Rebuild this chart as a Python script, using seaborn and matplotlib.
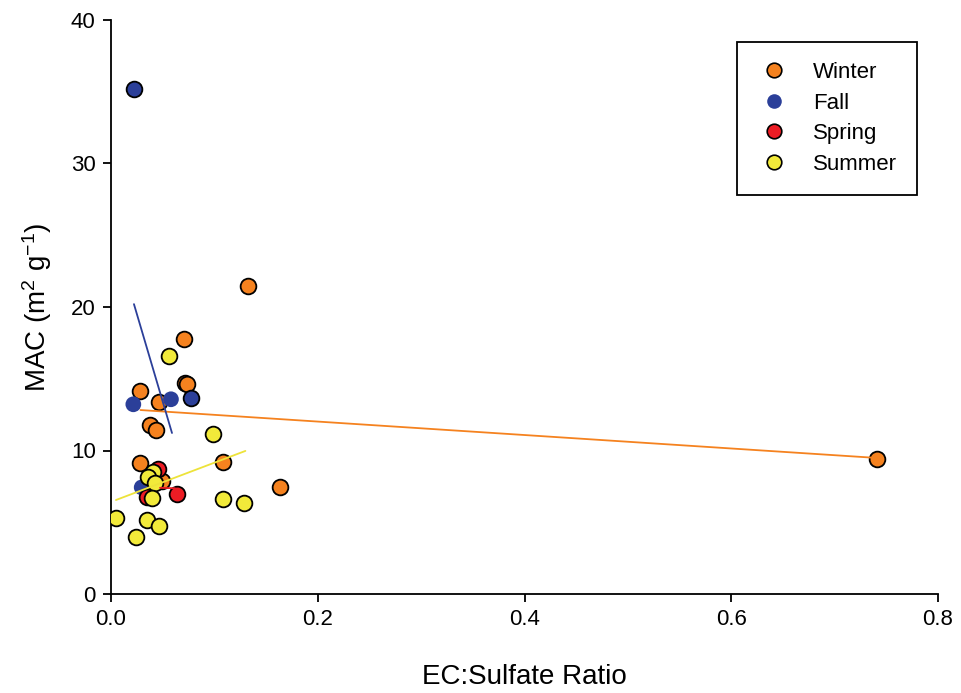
import matplotlib
matplotlib.use("Agg")
import matplotlib.pyplot as plt
from matplotlib.lines import Line2D
import seaborn as sns
import pandas as pd

sns.set_style("ticks")
plt.rcParams["font.family"] = ["Liberation Sans", "DejaVu Sans"]
plt.rcParams["mathtext.fontset"] = "custom"
plt.rcParams["mathtext.rm"] = "Liberation Sans"
plt.rcParams["mathtext.it"] = "Liberation Sans"
plt.rcParams["mathtext.default"] = "regular"
plt.rcParams["text.color"] = "black"
plt.rcParams["axes.labelcolor"] = "black"

# Observations: EC:sulfate ratio vs. mass absorption cross-section
winter_x = [0.1328, 0.0709, 0.0716, 0.0735, 0.0280, 0.0468, 0.0377, 0.0432,
            0.0280, 0.0490, 0.1087, 0.1635, 0.7410]
winter_y = [21.49, 17.75, 14.70, 14.62, 14.17, 13.40, 11.78, 11.43,
            9.10, 7.87, 9.17, 7.43, 9.40]

fall_x = [0.0222, 0.0774]          # outlined markers
fall_y = [35.19, 13.68]
fall_plain_x = [0.0216, 0.0580, 0.0297]
fall_plain_y = [13.22, 13.57, 7.43]

spring_x = [0.0452, 0.0345, 0.0635]
spring_y = [8.71, 6.78, 6.95]

summer_x = [0.0558, 0.0990, 0.0410, 0.0360, 0.0426, 0.0400, 0.1080,
            0.1290, 0.0045, 0.0348, 0.0468, 0.0242]
summer_y = [16.59, 11.13, 8.52, 8.17, 7.71, 6.71, 6.64,
            6.32, 5.32, 5.16, 4.76, 3.99]

# Least-squares fit lines per season (end points)
winter_fit_x = [0.0285, 0.741]
winter_fit_y = [12.82, 9.48]
fall_fit_x = [0.0222, 0.0590]
fall_fit_y = [20.20, 11.22]
spring_fit_x = [0.0474, 0.0619]
spring_fit_y = [7.40, 7.37]
summer_fit_x = [0.0048, 0.1300]
summer_fit_y = [6.55, 9.97]

seasons = ["Winter", "Fall", "Spring", "Summer"]
colors = {"Winter": "#F5821F", "Fall": "#2B3F99", "Spring": "#EC1C24", "Summer": "#F2EA3A"}
line_colors = {"Winter": "#F5821F", "Fall": "#2B3F99", "Spring": "#EC1C24", "Summer": "#EDE33A"}

fig = plt.figure(figsize=(9.61, 6.93), dpi=100)
ax = fig.add_axes([111 / 961, 1 - 594 / 693, (938 - 111) / 961, (594 - 20) / 693])

ms = 128
ew = 1.3

def pts(xs, ys, season, edge=True, z=3):
    df = pd.DataFrame({"x": xs, "y": ys})
    sns.scatterplot(data=df, x="x", y="y", ax=ax, s=ms, color=colors[season],
                    edgecolor="black" if edge else "none",
                    linewidth=ew if edge else 0, zorder=z, legend=False)

pts(winter_x, winter_y, "Winter", z=3)
pts(fall_plain_x, fall_plain_y, "Fall", edge=False, z=4)
pts(fall_x, fall_y, "Fall", z=4)
pts(spring_x, spring_y, "Spring", z=5)
pts(summer_x, summer_y, "Summer", z=6)

for season, fx, fy in [("Winter", winter_fit_x, winter_fit_y),
                       ("Fall", fall_fit_x, fall_fit_y),
                       ("Spring", spring_fit_x, spring_fit_y),
                       ("Summer", summer_fit_x, summer_fit_y)]:
    sns.lineplot(x=fx, y=fy, ax=ax, color=line_colors[season], lw=1.3, zorder=7)

ax.set_xlim(0, 0.8)
ax.set_ylim(0, 40)
ax.set_xticks([0.0, 0.2, 0.4, 0.6, 0.8])
ax.set_yticks([0, 10, 20, 30, 40])
ax.set_xticklabels(["0.0", "0.2", "0.4", "0.6", "0.8"])
ax.tick_params(direction="out", length=6, width=1.3, labelsize=16, pad=5,
               colors="black", labelcolor="black")
for sp in ["top", "right"]:
    ax.spines[sp].set_visible(False)
for sp in ["left", "bottom"]:
    ax.spines[sp].set_linewidth(1.3)
    ax.spines[sp].set_color("black")

ax.set_xlabel("EC:Sulfate Ratio", fontsize=20, labelpad=24)
ax.set_ylabel("MAC (m$^{2}$ g$^{-1}$)", fontsize=20, labelpad=12)

handles = []
for season in seasons:
    handles.append(Line2D([], [], ls="none", marker="o", markersize=10.5,
                          markerfacecolor=colors[season],
                          markeredgecolor="none" if season == "Fall" else "black",
                          markeredgewidth=1.2))
leg = ax.legend(handles, seasons, loc="upper right", bbox_to_anchor=(0.9746, 0.9617),
                borderaxespad=0, frameon=True, fancybox=False, fontsize=16,
                handletextpad=1.0, labelspacing=0.43, borderpad=0.9,
                handlelength=1.5, edgecolor="black")
leg.get_frame().set_linewidth(1.3)
leg.get_frame().set_alpha(1)
for t in leg.get_texts():
    t.set_color("black")

fig.savefig("out.png", dpi=100)
